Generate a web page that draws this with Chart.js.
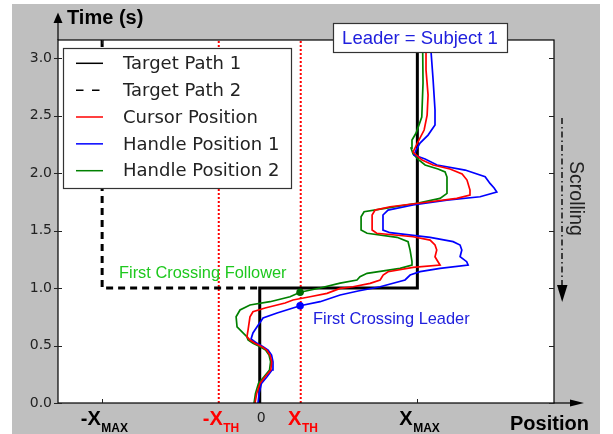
<!DOCTYPE html>
<html><head><meta charset="utf-8">
<script src="https://cdn.jsdelivr.net/npm/chart.js@4.4.0/dist/chart.umd.min.js"></script>
<style>html,body{margin:0;padding:0;background:#fff;}canvas{display:block;}</style>
</head><body>
<canvas id="c" width="613" height="434"></canvas>
<script>
// ---------- DATA ----------
const X_MAX = 1.0;
const X_TH = 0.26;
const xAxisMin = -1.28, xAxisMax = 1.867;
const tAxisMax = 3.157;
const yTicks = [0.0, 0.5, 1.0, 1.5, 2.0, 2.5, 3.0];
const xTickValues = [-X_MAX, -X_TH, 0, X_TH, X_MAX];
const xTickMain = ['-X', '-X', '0', 'X', 'X'];
const xTickSub = ['MAX', 'TH', '', 'TH', 'MAX'];
const xTickKind = ['max', 'th', 'zero', 'th', 'max'];

const targetPath1X = [0, 0, 1, 1];
const targetPath1T = [0, 1, 1, 3.157];
const targetPath2X = [-1, -1, 0];
const targetPath2T = [3.157, 1, 1];

const cursorX = [-0.030,-0.019,0.002,0.034,0.070,0.076,0.065,0.044,0.013,-0.030,-0.062,-0.081,-0.074,-0.062,-0.043,0.034,0.161,0.211,0.319,0.427,0.510,0.592,0.700,0.764,0.783,0.814,0.973,1.144,1.131,1.112,1.123,1.112,1.081,0.973,0.742,0.713,0.713,0.732,0.827,1.081,1.250,1.334,1.334,1.315,1.284,1.207,1.100,1.030,0.992,0.973,1.004,1.043,1.062,1.068,1.055,1.055];
const cursorT = [0.000,0.084,0.171,0.229,0.287,0.359,0.417,0.461,0.490,0.519,0.548,0.577,0.635,0.750,0.794,0.826,0.870,0.896,0.924,0.954,0.997,1.011,1.041,1.070,1.113,1.142,1.180,1.200,1.229,1.272,1.330,1.374,1.417,1.446,1.476,1.504,1.635,1.678,1.707,1.750,1.780,1.809,1.852,1.939,1.991,2.035,2.070,2.113,2.157,2.183,2.270,2.374,2.504,2.678,2.896,3.157];

const handle1X = [-0.011,-0.004,0.011,0.046,0.078,0.084,0.075,0.053,0.021,-0.017,-0.055,-0.043,-0.017,0.021,0.110,0.211,0.256,0.383,0.510,0.624,0.764,0.922,0.954,1.017,1.144,1.322,1.313,1.271,1.282,1.271,1.227,1.081,0.827,0.782,0.782,0.814,0.973,1.187,1.398,1.504,1.487,1.461,1.430,1.303,1.125,1.049,0.979,0.992,1.017,1.068,1.112,1.112,1.100,1.087,1.087];
const handle1T = [0.000,0.084,0.171,0.229,0.287,0.359,0.417,0.461,0.490,0.519,0.557,0.609,0.663,0.739,0.783,0.826,0.846,0.881,0.939,0.974,1.011,1.070,1.113,1.142,1.171,1.200,1.229,1.272,1.330,1.374,1.403,1.441,1.481,1.504,1.635,1.678,1.722,1.765,1.794,1.835,1.870,1.910,1.968,2.026,2.070,2.122,2.157,2.200,2.261,2.330,2.417,2.548,2.809,3.052,3.157];

const handle2X = [-0.036,-0.027,-0.008,0.027,0.062,0.069,0.059,0.037,0.002,-0.043,-0.074,-0.082,-0.144,-0.150,-0.125,-0.062,0.065,0.192,0.256,0.383,0.510,0.617,0.636,0.681,0.890,0.966,0.966,0.954,0.941,0.871,0.681,0.643,0.643,0.662,0.795,0.998,1.144,1.188,1.188,1.176,1.131,1.049,1.011,0.973,0.960,0.966,0.992,1.028,1.036,1.034,1.030];
const handle2T = [0.000,0.084,0.171,0.229,0.287,0.359,0.417,0.461,0.490,0.519,0.548,0.577,0.663,0.750,0.809,0.852,0.881,0.924,0.963,1.000,1.043,1.070,1.098,1.128,1.171,1.200,1.229,1.330,1.403,1.441,1.476,1.504,1.620,1.663,1.693,1.737,1.780,1.823,1.965,2.009,2.035,2.070,2.113,2.165,2.217,2.287,2.348,2.487,2.783,3.052,3.157];

const followerCrossingX = [0.256], followerCrossingT = [0.963];
const leaderCrossingX = [0.256], leaderCrossingT = [0.846];

// ---------- BUILD ----------
const pts = (xs, ts) => xs.map((x, i) => ({x: x, y: ts[i]}));
const lineDs = (label, xs, ts, color, width, dash, order, legend) => ({
  label, data: pts(xs, ts), showLine: true, borderColor: color, backgroundColor: color,
  borderWidth: width, borderDash: dash || [], pointRadius: 0, tension: 0, order, legend
});

const datasets = [
  lineDs('Target Path 1', targetPath1X, targetPath1T, '#000000', 3, [], 5, true),
  lineDs('Target Path 2', targetPath2X, targetPath2T, '#000000', 3, [7, 5], 5, true),
  lineDs('Cursor Position', cursorX, cursorT, '#ff0000', 1.7, [], 2, true),
  lineDs('Handle Position 1', handle1X, handle1T, '#0000ff', 1.7, [], 3, true),
  lineDs('Handle Position 2', handle2X, handle2T, '#008000', 1.7, [], 4, true),
  lineDs('-XTH', [-X_TH, -X_TH], [0, tAxisMax], '#ff0000', 2, [2, 2], 6, false),
  lineDs('XTH', [X_TH, X_TH], [0, tAxisMax], '#ff0000', 2, [2, 2], 6, false),
  { label: 'First Crossing Follower', data: pts(followerCrossingX, followerCrossingT), showLine: false,
    pointRadius: 3.8, pointBackgroundColor: '#006a00', pointBorderWidth: 0, order: 0, legend: false },
  { label: 'First Crossing Leader', data: pts(leaderCrossingX, leaderCrossingT), showLine: false,
    pointRadius: 3.8, pointBackgroundColor: '#0000ff', pointBorderWidth: 0, order: 0, legend: false }
];

const SANS = '"Liberation Sans", Arial, sans-serif';
const DEJA = '"DejaVu Sans", sans-serif';

const decor = {
  id: 'decor',
  beforeDraw(chart) {
    const {ctx, chartArea: a} = chart;
    ctx.save();
    ctx.fillStyle = '#ffffff'; ctx.fillRect(0, 0, chart.width, chart.height);
    ctx.fillStyle = '#bfbfbf'; ctx.fillRect(12, 4, 588, 430);
    ctx.fillStyle = '#ffffff'; ctx.fillRect(a.left, a.top, a.right - a.left, a.bottom - a.top);
    ctx.restore();
  },
  afterDraw(chart) {
    const {ctx, chartArea: a, scales: {x: xs, y: ys}} = chart;
    ctx.save();
    // frame
    ctx.strokeStyle = '#000'; ctx.lineWidth = 1.2; ctx.setLineDash([]);
    ctx.strokeRect(a.left, a.top, a.right - a.left, a.bottom - a.top);
    // axis arrows
    ctx.beginPath(); ctx.moveTo(a.left, a.top); ctx.lineTo(a.left, 22); ctx.stroke();
    ctx.fillStyle = '#000';
    ctx.beginPath(); ctx.moveTo(a.left, 12.5); ctx.lineTo(a.left - 4.5, 23); ctx.lineTo(a.left + 4.5, 23); ctx.closePath(); ctx.fill();
    ctx.beginPath(); ctx.moveTo(a.right, a.bottom); ctx.lineTo(571, a.bottom); ctx.stroke();
    ctx.beginPath(); ctx.moveTo(584, a.bottom); ctx.lineTo(570, a.bottom - 3.6); ctx.lineTo(570, a.bottom + 3.6); ctx.closePath(); ctx.fill();
    // ticks
    ctx.lineWidth = 1; ctx.strokeStyle = '#222';
    yTicks.forEach(v => {
      const py = Math.round(ys.getPixelForValue(v)) + 0.5;
      ctx.beginPath(); ctx.moveTo(a.left - 4, py); ctx.lineTo(a.left + 4, py);
      ctx.moveTo(a.right - 5, py); ctx.lineTo(a.right, py); ctx.stroke();
    });
    xTickValues.forEach((v, i) => {
      if (xTickKind[i] !== 'max') return;
      const px = Math.round(xs.getPixelForValue(v)) + 0.5;
      ctx.beginPath(); ctx.moveTo(px, a.bottom); ctx.lineTo(px, a.bottom - 4);
      ctx.moveTo(px, a.top); ctx.lineTo(px, a.top + 4); ctx.stroke();
    });
    // x tick labels
    xTickValues.forEach((v, i) => {
      const px = xs.getPixelForValue(v);
      const kind = xTickKind[i];
      if (kind === 'zero') {
        ctx.font = '14px ' + DEJA; ctx.fillStyle = '#222'; ctx.textAlign = 'center'; ctx.textBaseline = 'alphabetic';
        ctx.fillText(xTickMain[i], px + 1.5, 421.5);
        return;
      }
      ctx.fillStyle = kind === 'th' ? '#ff0000' : '#000000';
      ctx.textAlign = 'left'; ctx.textBaseline = 'alphabetic';
      ctx.font = 'bold 20px ' + SANS; const w1 = ctx.measureText(xTickMain[i]).width;
      ctx.font = 'bold 12px ' + SANS; const w2 = ctx.measureText(xTickSub[i]).width;
      const left = px - (w1 + w2) / 2 + 2;
      ctx.font = 'bold 20px ' + SANS; ctx.fillText(xTickMain[i], left, 425);
      ctx.font = 'bold 12px ' + SANS; ctx.fillText(xTickSub[i], left + w1 + 0.5, 432);
    });
    // axis titles
    ctx.fillStyle = '#000'; ctx.font = 'bold 20px ' + SANS; ctx.textAlign = 'left'; ctx.textBaseline = 'alphabetic';
    ctx.fillText('Time (s)', 67, 23.5);
    ctx.fillText('Position', 510, 430);
    // legend
    const lx = 63, ly = 48, lw = 228, lh = 140;
    ctx.fillStyle = '#fff'; ctx.fillRect(lx, ly, lw, lh);
    ctx.strokeStyle = '#333'; ctx.lineWidth = 1.2; ctx.strokeRect(lx + 0.5, ly + 0.5, lw, lh);
    let row = 0;
    chart.data.datasets.forEach(ds => {
      if (!ds.legend) return;
      const yy = 63.3 + row * 26.85;
      ctx.strokeStyle = ds.borderColor; ctx.lineWidth = 1.5;
      ctx.setLineDash(ds.borderDash.length ? [7.5, 8.5] : []);
      ctx.beginPath(); ctx.moveTo(76, yy); ctx.lineTo(103, yy); ctx.stroke();
      ctx.setLineDash([]);
      ctx.fillStyle = '#222'; ctx.font = '18px ' + DEJA; ctx.textAlign = 'left'; ctx.textBaseline = 'middle';
      ctx.fillText(ds.label, 123, yy + 1);
      row++;
    });
    // leader box
    ctx.fillStyle = '#fff'; ctx.fillRect(333, 23, 174, 29);
    ctx.strokeStyle = '#333'; ctx.lineWidth = 1.2; ctx.strokeRect(333.5, 23.5, 174, 29);
    ctx.fillStyle = '#2020dd'; ctx.font = '18.5px ' + SANS; ctx.textAlign = 'center'; ctx.textBaseline = 'alphabetic';
    ctx.fillText('Leader = Subject 1', 420, 44);
    // crossing annotations
    ctx.textAlign = 'left';
    ctx.fillStyle = '#1ec81e'; ctx.font = '16.4px ' + SANS;
    ctx.fillText('First Crossing Follower', 119, 277.5);
    ctx.fillStyle = '#2020dd';
    ctx.fillText('First Crossing Leader', 313, 324);
    // scrolling arrow
    ctx.strokeStyle = '#111'; ctx.lineWidth = 1.5; ctx.setLineDash([6, 3, 1.5, 3]);
    ctx.beginPath(); ctx.moveTo(562, 118); ctx.lineTo(562, 288); ctx.stroke();
    ctx.setLineDash([]);
    ctx.fillStyle = '#000';
    ctx.beginPath(); ctx.moveTo(557, 285); ctx.lineTo(567.5, 285); ctx.lineTo(562.2, 302); ctx.closePath(); ctx.fill();
    ctx.translate(570, 198.5); ctx.rotate(Math.PI / 2);
    ctx.fillStyle = '#222'; ctx.font = '19.5px ' + SANS; ctx.textAlign = 'center'; ctx.textBaseline = 'alphabetic';
    ctx.fillText('Scrolling', 0, 0);
    ctx.restore();
  }
};

new Chart(document.getElementById('c').getContext('2d'), {
  type: 'scatter',
  data: { datasets },
  options: {
    responsive: false, animation: false,
    layout: { padding: { left: 0, top: 40, right: 59, bottom: 0 } },
    plugins: { legend: { display: false }, tooltip: { enabled: false } },
    scales: {
      x: { type: 'linear', min: xAxisMin, max: xAxisMax,
           ticks: { display: false }, grid: { display: false, drawTicks: false }, border: { display: false },
           afterFit: s => { s.height = 31; } },
      y: { type: 'linear', min: 0, max: tAxisMax,
           afterBuildTicks: s => { s.ticks = yTicks.map(v => ({ value: v })); },
           ticks: { font: { family: 'DejaVu Sans', size: 14 }, color: '#222', padding: 6,
                    callback: v => Number(v).toFixed(1) },
           grid: { display: false, drawTicks: false }, border: { display: false },
           afterFit: s => { s.width = 58; } }
    }
  },
  plugins: [decor]
});
</script>
</body></html>
